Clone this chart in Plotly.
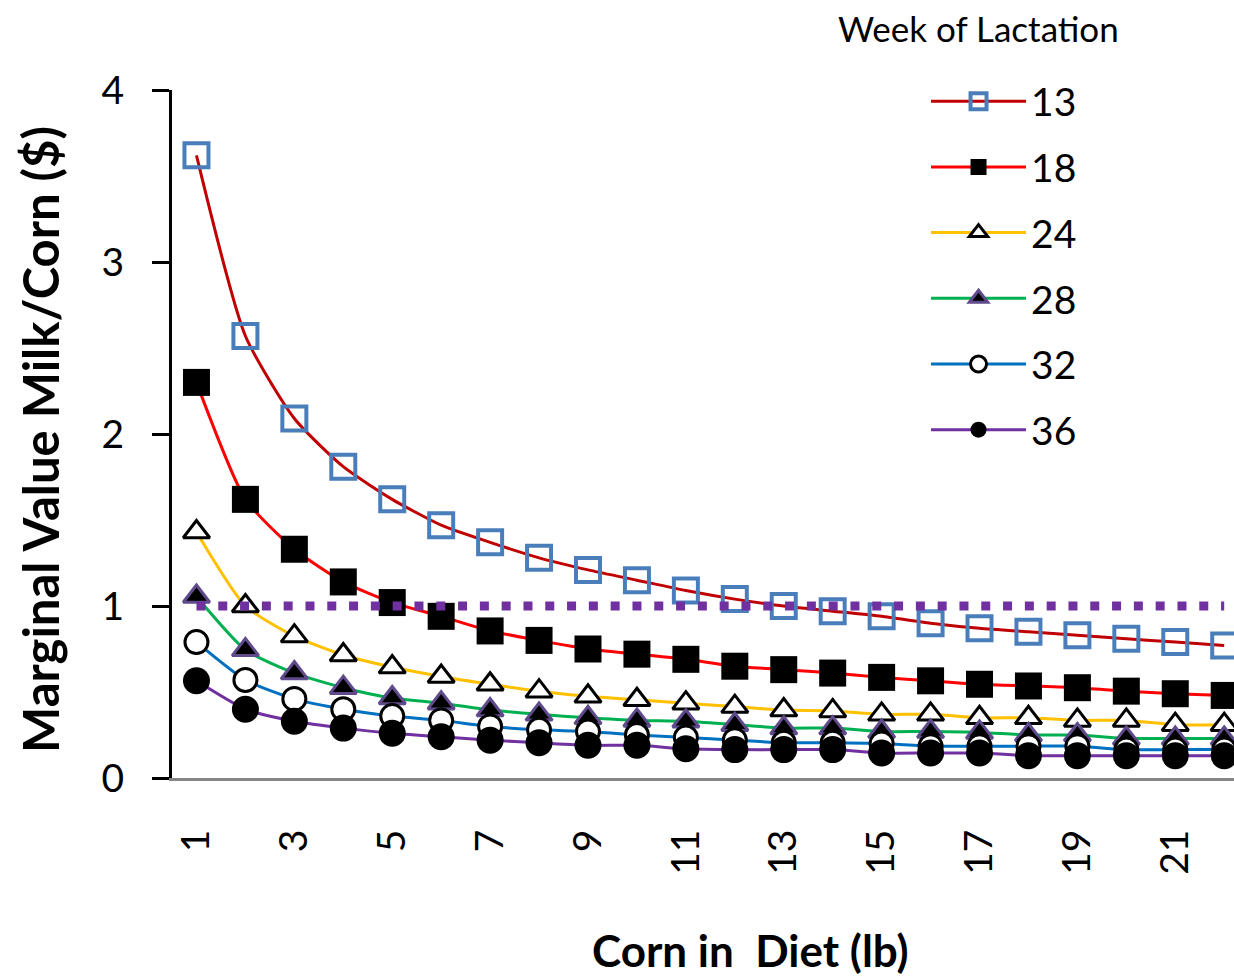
import plotly.graph_objects as go

corn = [1, 2, 3, 4, 5, 6, 7, 8, 9, 10, 11, 12, 13, 14, 15, 16, 17, 18, 19, 20, 21, 22]
w13 = [3.62, 2.57, 2.09, 1.81, 1.62, 1.47, 1.37, 1.28, 1.21, 1.15, 1.09, 1.04, 1.00, 0.97, 0.94, 0.90, 0.87, 0.85, 0.83, 0.81, 0.79, 0.77]
w18 = [2.30, 1.62, 1.33, 1.14, 1.02, 0.94, 0.855, 0.80, 0.75, 0.72, 0.69, 0.65, 0.63, 0.61, 0.585, 0.565, 0.545, 0.535, 0.525, 0.505, 0.49, 0.48]
w24 = [1.43, 1.00, 0.825, 0.715, 0.645, 0.59, 0.545, 0.505, 0.475, 0.455, 0.435, 0.415, 0.395, 0.39, 0.37, 0.37, 0.35, 0.35, 0.335, 0.335, 0.31, 0.31]
w28 = [1.055, 0.745, 0.61, 0.525, 0.465, 0.435, 0.395, 0.37, 0.35, 0.335, 0.33, 0.31, 0.29, 0.29, 0.27, 0.27, 0.265, 0.25, 0.25, 0.23, 0.23, 0.23]
w32 = [0.79, 0.57, 0.46, 0.40, 0.36, 0.335, 0.30, 0.28, 0.27, 0.25, 0.235, 0.22, 0.205, 0.205, 0.20, 0.185, 0.185, 0.185, 0.185, 0.165, 0.165, 0.165]
w36 = [0.565, 0.40, 0.33, 0.29, 0.26, 0.24, 0.22, 0.205, 0.19, 0.19, 0.17, 0.165, 0.165, 0.165, 0.145, 0.145, 0.145, 0.13, 0.13, 0.13, 0.13, 0.13]
breakeven = [1, 1, 1, 1, 1, 1, 1, 1, 1, 1, 1, 1, 1, 1, 1, 1, 1, 1, 1, 1, 1, 1]
week_labels = ["13", "18", "24", "28", "32", "36"]
x_tickvals = [1, 3, 5, 7, 9, 11, 13, 15, 17, 19, 21]
x_ticktext = ["1", "3", "5", "7", "9", "11", "13", "15", "17", "19", "21"]
y_tickvals = [0, 1, 2, 3, 4]

FONT = "Lato"

styles = [
    dict(line="#C00000", symbol="square-open", mcolor="#4A7EBB", mline="#4A7EBB", mlw=4, size=24),
    dict(line="#FF0000", symbol="square", mcolor="#000000", mline="#000000", mlw=0, size=27),
    dict(line="#FFC000", symbol="triangle-up", mcolor="#FFFFFF", mline="#000000", mlw=3, size=23),
    dict(line="#00B050", symbol="triangle-up", mcolor="#000000", mline="#5F4B8B", mlw=3, size=23),
    dict(line="#0070C0", symbol="circle", mcolor="#FFFFFF", mline="#000000", mlw=3, size=23),
    dict(line="#7030A0", symbol="circle", mcolor="#000000", mline="#000000", mlw=0, size=27),
]
series = [w13, w18, w24, w28, w32, w36]

fig = go.Figure()
for name, ys, st in zip(week_labels, series, styles):
    fig.add_trace(go.Scatter(
        x=corn, y=ys, name=name, legendgroup=name,
        mode="lines+markers",
        line=dict(color=st["line"], width=3, shape="spline", smoothing=0.6),
        marker=dict(symbol=st["symbol"], color=st["mcolor"], size=st["size"],
                    line=dict(color=st["mline"], width=st["mlw"])),
    ))

fig.add_trace(go.Scatter(
    x=corn, y=breakeven, mode="lines", showlegend=False,
    line=dict(color="#7030A0", width=9, dash="9px,12.8px"),
    hoverinfo="skip",
))

fig.update_layout(
    width=1234, height=977,
    margin=dict(l=172, r=0, t=90, b=199),
    paper_bgcolor="white", plot_bgcolor="white",
    font=dict(family=FONT, color="black", size=39),
    showlegend=True,
    legend=dict(
        x=0.71, xanchor="left", y=1.03, yanchor="top",
        bgcolor="rgba(0,0,0,0)", font=dict(family=FONT, size=39),
        itemwidth=95, tracegroupgap=12, traceorder="grouped",
    ),
    xaxis=dict(
        range=[0.5, 22.2], showgrid=False, zeroline=False,
        showline=True, linecolor="#868686", linewidth=3,
        tickvals=x_tickvals, ticktext=x_ticktext, tickangle=-90,
        ticks="", ticklabelstandoff=33,
        tickfont=dict(family=FONT, size=39),
    ),
    yaxis=dict(
        range=[0, 4], showgrid=False, zeroline=False,
        showline=True, linecolor="black", linewidth=3,
        tickvals=y_tickvals, ticks="outside", ticklen=17, tickwidth=3, tickcolor="black",
        ticklabelstandoff=20,
        tickfont=dict(family=FONT, size=39),
    ),
    annotations=[
        dict(text="Week of Lactation", xref="paper", yref="paper",
             x=(836 - 172) / 1062, y=(778 - 28) / 688, xanchor="left", yanchor="middle",
             showarrow=False, font=dict(family=FONT, size=35)),
        dict(text="<b>Corn in  Diet (lb)</b>", xref="paper", yref="paper",
             x=(750 - 172) / 1062, y=(778 - 950) / 688, xanchor="center", yanchor="middle",
             showarrow=False, font=dict(family=FONT, size=44)),
        dict(text="<b>Marginal Value Milk/Corn ($)</b>", xref="paper", yref="paper",
             x=(40 - 172) / 1062, y=(778 - 440) / 688, xanchor="center", yanchor="middle",
             textangle=-90, showarrow=False, font=dict(family=FONT, size=49)),
    ],
)

fig.write_html("out.html", config={"displayModeBar": False},
               post_script="document.body.style.margin='0';document.body.style.overflow='hidden';")
